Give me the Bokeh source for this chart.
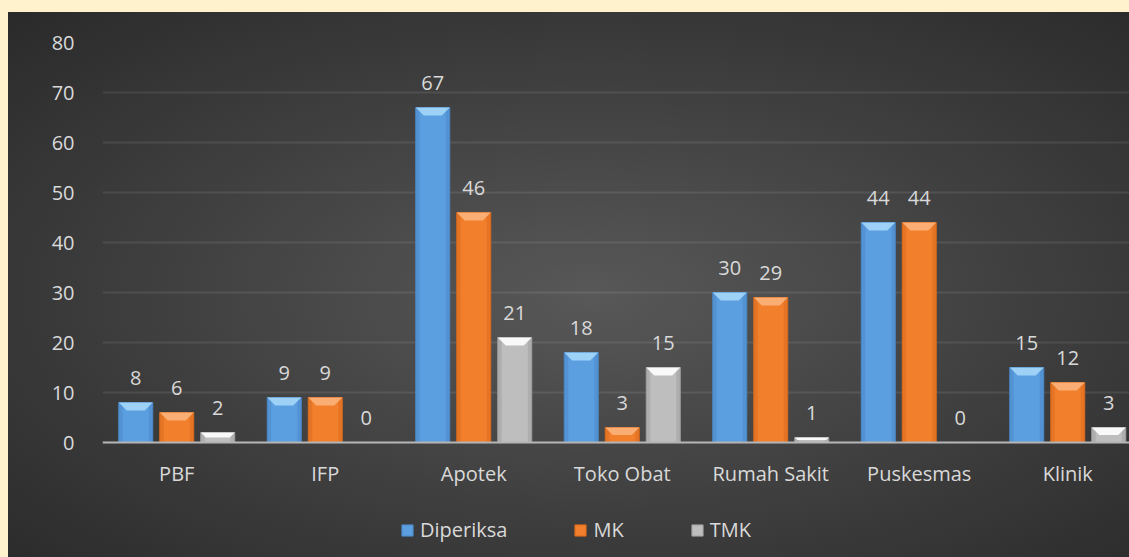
from bokeh.plotting import figure
from bokeh.models import (Range1d, FixedTicker, ColumnDataSource, LabelSet,
                          Legend, LegendItem)
from bokeh.core.properties import value
from bokeh.embed import file_html
from bokeh.resources import INLINE

# ---------------- data ----------------
categories = ["PBF", "IFP", "Apotek", "Toko Obat", "Rumah Sakit", "Puskesmas", "Klinik"]
series_names = ["Diperiksa", "MK", "TMK"]
diperiksa = [8, 9, 67, 18, 30, 44, 15]
mk = [6, 9, 46, 3, 29, 44, 12]
tmk = [2, 0, 21, 15, 1, 0, 3]
y_ticks = [0, 10, 20, 30, 40, 50, 60, 70, 80]

# ---------------- styles ----------------
body_colors = ["#5C9FE0", "#F27F2C", "#BEBEBE"]
top_colors = ["#A4D6F8", "#FBB47C", "#FFFFFF"]
edge_colors = ["#4A86C4", "#D4691C", "#9C9C9C"]
text_color = "#D9D9D9"
FONT = "Open Sans"

CAT_PX = 148.5          # pixels per category
FRAME_W = 1027
PX_PER_UNIT_Y = 5.0
Y_MAX = 80
Y_MIN = -23             # frame extends below the axis (legend area)
x_end = FRAME_W / CAT_PX
px_x = 1.0 / CAT_PX
px_y = 1.0 / PX_PER_UNIT_Y
BAR_W = 34 * px_x
OFFSETS = [-41 * px_x, 0.0, 41 * px_x]

p = figure(width=1121, height=545, output_backend="svg", toolbar_location=None,
           x_range=Range1d(0, x_end), y_range=Range1d(Y_MIN, Y_MAX),
           min_border_left=94, min_border_right=0, min_border_top=30,
           min_border_bottom=0)
p.border_fill_alpha = 0
p.background_fill_alpha = 0
p.outline_line_color = None
p.styles = {
    "margin-left": "8px",
    "margin-top": "12px",
    "background": "radial-gradient(ellipse farthest-corner at 52% 52%, #585858 0%, #3E3E3E 55%, #2A2A2A 100%)",
}

series_vals = [diperiksa, mk, tmk]
renderers = []
for si, vals in enumerate(series_vals):
    xs = [i + 0.5 + OFFSETS[si] for i in range(len(categories))]
    src = ColumnDataSource(dict(x=xs, top=vals, lab=[str(v) for v in vals]))
    r = p.vbar(x="x", top="top", bottom=0, width=BAR_W, source=src,
               fill_color=body_colors[si], line_color=edge_colors[si], line_width=1)
    renderers.append(r)
    side_w = 4 * px_x
    lx = [x - BAR_W / 2 + side_w / 2 for x in xs]
    rx = [x + BAR_W / 2 - side_w / 2 for x in xs]
    p.vbar(x=lx, top=vals, bottom=0, width=side_w, fill_color=edge_colors[si],
           fill_alpha=0.45, line_color=None)
    p.vbar(x=rx, top=vals, bottom=0, width=side_w, fill_color=edge_colors[si],
           fill_alpha=0.45, line_color=None)
    bxs, bys = [], []
    for x, v in zip(xs, vals):
        if v <= 0:
            continue
        bh = min(8 * px_y, v / 2.0)
        inset = (bh / px_y) * px_x
        l, rr = x - BAR_W / 2, x + BAR_W / 2
        bxs.append([l, rr, rr - inset, l + inset])
        bys.append([v, v, v - bh, v - bh])
    p.patches(bxs, bys, fill_color=top_colors[si], fill_alpha=0.9, line_color=None)
    labels = LabelSet(x="x", y="top", text="lab", source=src, y_offset=18,
                      text_align="center", text_baseline="alphabetic",
                      text_color=text_color, text_font=value(FONT),
                      text_font_size="20px")
    p.add_layout(labels)

# axes
p.xaxis.fixed_location = 0
p.xaxis.ticker = FixedTicker(ticks=[i + 0.5 for i in range(len(categories))])
p.xaxis.major_label_overrides = {i + 0.5: c for i, c in enumerate(categories)}
p.xaxis.major_tick_line_color = None
p.xaxis.minor_tick_line_color = None
p.xaxis.axis_line_color = "#B4B4B4"
p.xaxis.axis_line_width = 2
p.xaxis.major_label_standoff = 11
p.xaxis.major_label_text_color = text_color
p.xaxis.major_label_text_font = FONT
p.xaxis.major_label_text_font_size = "20px"

p.yaxis.ticker = FixedTicker(ticks=y_ticks)
p.yaxis.axis_line_color = None
p.yaxis.major_tick_line_color = None
p.yaxis.minor_tick_line_color = None
p.yaxis.major_label_standoff = 22
p.yaxis.major_label_text_color = text_color
p.yaxis.major_label_text_font = FONT
p.yaxis.major_label_text_font_size = "20px"

p.xgrid.grid_line_color = None
p.ygrid.ticker = FixedTicker(ticks=y_ticks)
p.ygrid.grid_line_color = "#FFFFFF"
p.ygrid.grid_line_alpha = 0.09
p.ygrid.grid_line_width = 2

legend = Legend(items=[LegendItem(label=n, renderers=[r]) for n, r in zip(series_names, renderers)],
                location=(298, 14), orientation="horizontal",
                background_fill_alpha=0, border_line_alpha=0, padding=0, margin=0,
                spacing=66, glyph_width=14, glyph_height=14, label_standoff=6,
                label_text_color=text_color, label_text_font=FONT,
                label_text_font_size="20px")
p.add_layout(legend)

html = file_html(p, INLINE, title="chart")
html = html.replace("</head>",
                    "<style>html,body{background:#FFF2CC !important;margin:0 !important;"
                    "padding:0 !important;overflow:hidden;}</style></head>", 1)
open("out.html", "w").write(html)
